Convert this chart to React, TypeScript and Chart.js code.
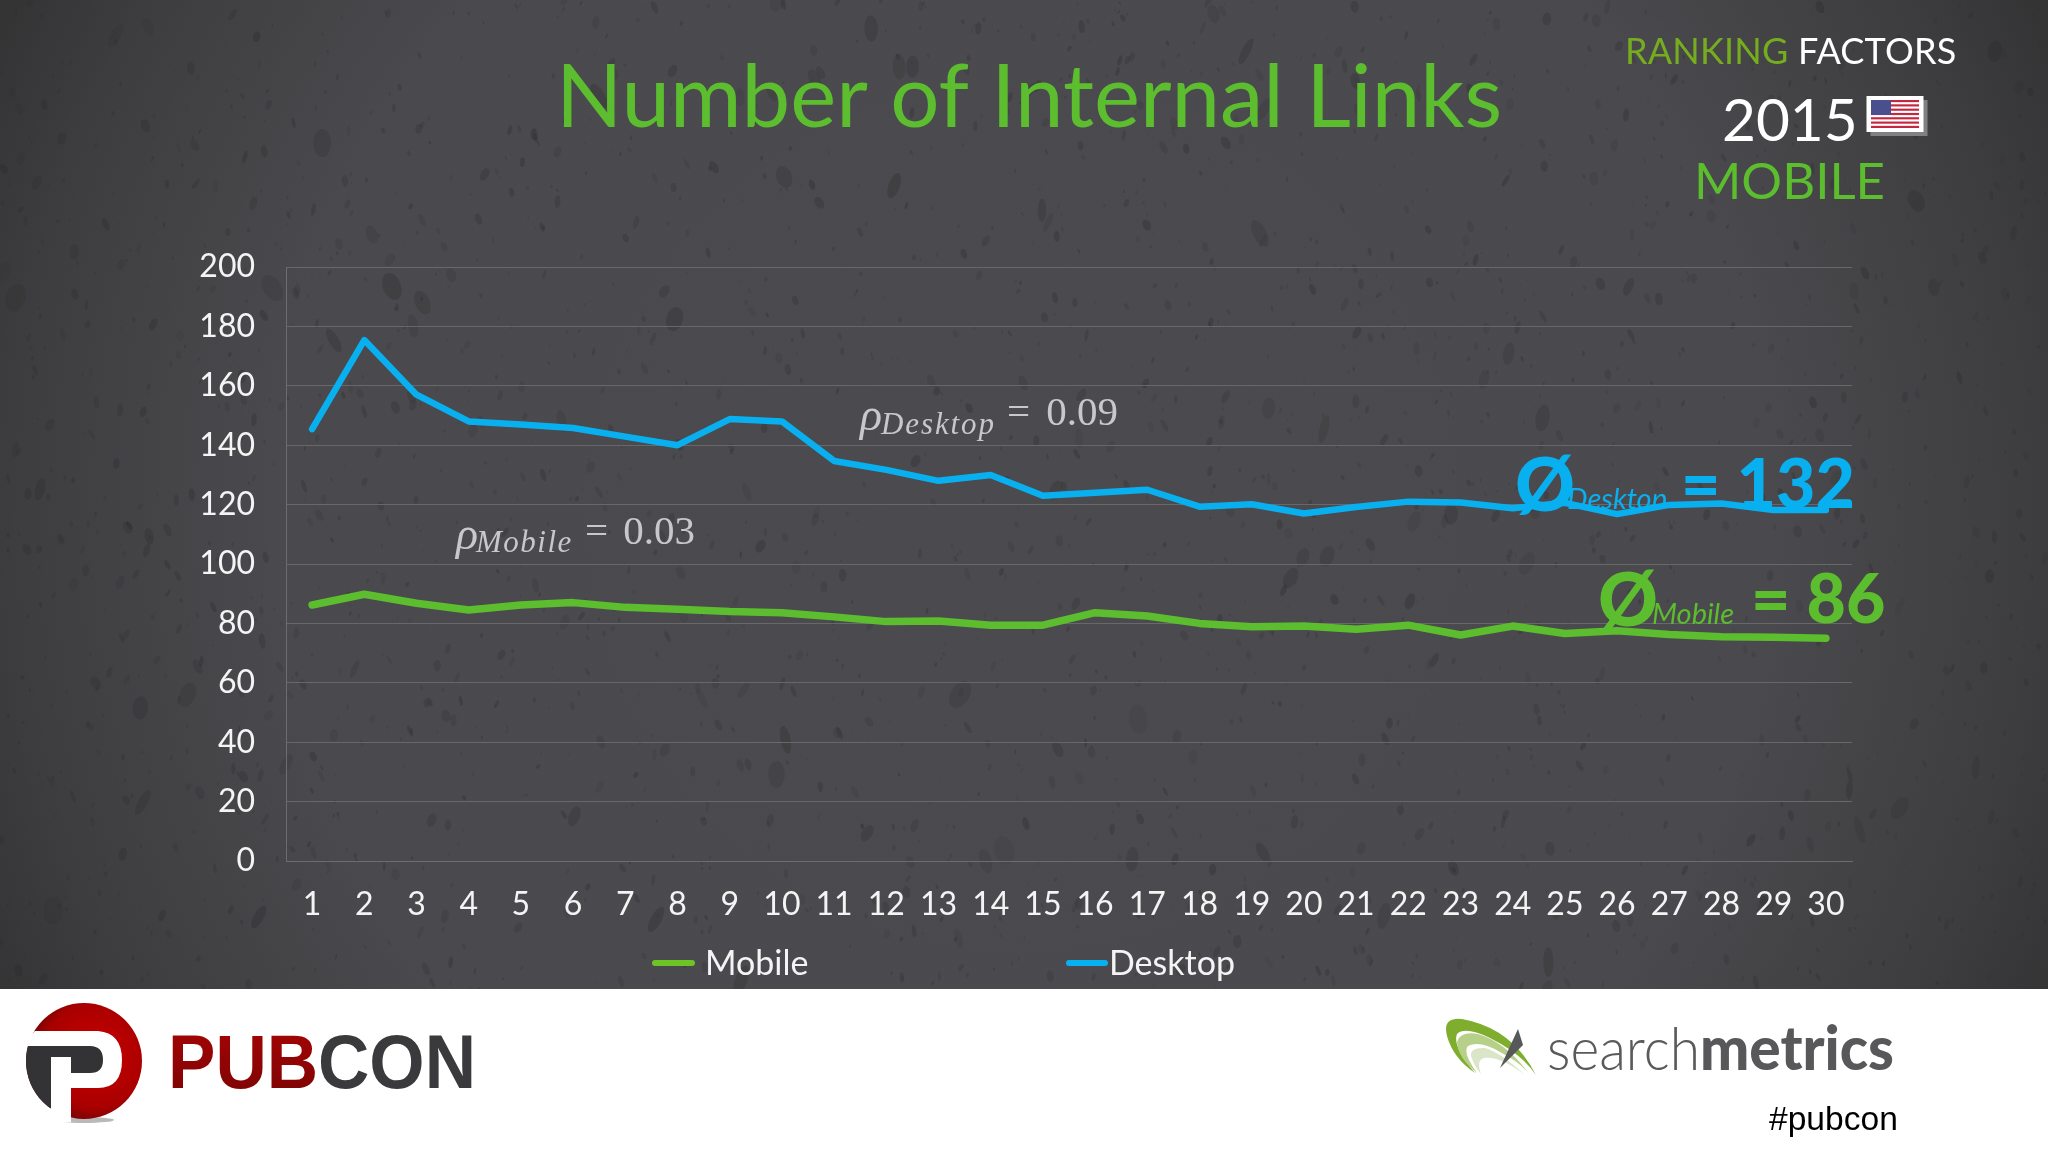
import React, { useEffect, useRef } from "react";
import { Chart, registerables } from "chart.js";

Chart.register(...registerables);

const categories = ["1","2","3","4","5","6","7","8","9","10","11","12","13","14","15","16","17","18","19","20","21","22","23","24","25","26","27","28","29","30"];
const mobileValues = [86.2,89.8,86.8,84.5,86.2,87,85.4,84.8,84,83.6,82.2,80.6,80.8,79.4,79.4,83.6,82.5,80,78.9,79.1,78,79.4,76.1,79.1,76.6,77.5,76.3,75.5,75.3,75];
const desktopValues = [145.4,175.4,157,148,147,145.8,142.9,140,148.8,148,134.7,131.7,128,130,123,124,125,119.3,120.1,117,119.2,121,120.7,118.8,120.6,116.8,119.9,120.4,118.2,118.2];

const titleText = "Number of Internal Links";
const GREEN = "#5cbd2e";
const BLUE = "#08b0f0";
const UI = "Lato, sans-serif";
const SERIF = "Liberation Serif, serif";
const NOTE = "#c8c8ca";

const abs = (left: number, top: number, extra: React.CSSProperties = {}): React.CSSProperties => ({
  position: "absolute",
  left,
  top,
  whiteSpace: "nowrap",
  lineHeight: 1,
  ...extra,
});

// Decorative stone texture of the slide background; unrelated to the chart's data.
function paintTexture(cv: HTMLCanvasElement) {
  const ctx = cv.getContext("2d")!;
  const W = cv.width;
  const H = cv.height;
  const g = ctx.createRadialGradient(W / 2, H * 0.52, 200, W / 2, H * 0.52, 1200);
  g.addColorStop(0, "#4b4a4e");
  g.addColorStop(0.55, "#4a494d");
  g.addColorStop(0.8, "#3e3e40");
  g.addColorStop(1, "#2f2f30");
  ctx.fillStyle = g;
  ctx.fillRect(0, 0, W, H);
  let seed = 12345;
  const next = () => {
    seed = (seed * 1664525 + 1013904223) >>> 0;
    return seed / 4294967296;
  };
  for (let i = 0; i < 2400; i++) {
    const x = next() * W;
    const y = next() * H;
    const big = next();
    const ry = big > 0.95 ? 7 + next() * 8 : big > 0.6 ? 3 + next() * 4 : 1 + next() * 2;
    const rx = ry * (0.3 + next() * 0.4);
    const rot = (next() - 0.5) * 1.2;
    ctx.fillStyle = `rgba(40,40,42,${0.1 + next() * 0.2})`;
    ctx.beginPath();
    ctx.ellipse(x, y, rx, ry, rot, 0, Math.PI * 2);
    ctx.fill();
  }
}

export default function App() {
  const ref = useRef<HTMLCanvasElement | null>(null);
  const bg = useRef<HTMLCanvasElement | null>(null);
  useEffect(() => {
    paintTexture(bg.current!);
    const chart = new Chart(ref.current!, {
      type: "line",
      data: {
        labels: categories,
        datasets: [
          { label: "Mobile", data: mobileValues, borderColor: GREEN, backgroundColor: GREEN, borderWidth: 7.5, pointRadius: 0, tension: 0, borderCapStyle: "round", borderJoinStyle: "round" },
          { label: "Desktop", data: desktopValues, borderColor: BLUE, backgroundColor: BLUE, borderWidth: 6.5, pointRadius: 0, tension: 0, borderCapStyle: "round", borderJoinStyle: "round" },
        ],
      },
      options: {
        animation: false,
        responsive: false,
        devicePixelRatio: 1,
        layout: { padding: { left: 32, right: 196, top: 0, bottom: 28 } },
        scales: {
          x: {
            offset: true,
            afterFit: (s: any) => { s.height = 100; },
            grid: { display: false },
            border: { color: "#6d6d70", width: 1 },
            ticks: { color: "#f4f4f4", font: { family: UI, size: 32 }, padding: 16, maxRotation: 0, autoSkip: false },
          },
          y: {
            min: 0,
            max: 200,
            afterFit: (s: any) => { s.width = 254; },
            grid: { color: "#68686b", lineWidth: 1, drawTicks: false },
            border: { color: "#6d6d70", width: 1 },
            ticks: { stepSize: 20, autoSkip: false, color: "#f4f4f4", font: { family: UI, size: 32 }, padding: 31 },
          },
        },
        plugins: {
          tooltip: { enabled: false },
          legend: { display: false },
          title: {
            display: true,
            text: titleText,
            color: GREEN,
            font: { family: UI, size: 87, weight: "normal", lineHeight: 1 },
            padding: { top: 55, bottom: 125 },
          },
        },
      },
      plugins: [
        {
          id: "titleOffset",
          afterLayout(c: any) {
            c.titleBlock.left = 10;
            c.titleBlock.right = 2048;
          },
        },
      ],
    } as any);
    return () => chart.destroy();
  }, []);

  return (
    <div style={{ position: "absolute", left: 0, top: 0, width: 2048, height: 1152, overflow: "hidden", background: "#fff", fontFamily: UI }}>
      <canvas ref={bg} width={2048} height={989} style={{ position: "absolute", left: 0, top: 0, width: 2048, height: 989 }} />
      <canvas ref={ref} width={2048} height={989} style={{ position: "absolute", left: 0, top: 0, width: 2048, height: 989 }} />

      {/* legend */}
      <div style={{ position: "absolute", left: 652, top: 960, width: 43, height: 6, borderRadius: 3, background: "#6cc524" }} />
      <div style={abs(705, 945, { fontSize: 34, color: "#f4f4f4" })}>Mobile</div>
      <div style={{ position: "absolute", left: 1066, top: 960, width: 42, height: 6, borderRadius: 3, background: BLUE }} />
      <div style={abs(1109, 945, { fontSize: 34, color: "#f4f4f4" })}>Desktop</div>

      {/* top-right label */}
      <div style={abs(1625, 32, { fontSize: 36, color: "#76ad1f", letterSpacing: 0.2 })}>
        RANKING <span style={{ color: "#fff" }}>FACTORS</span>
      </div>
      <div style={abs(1722, 89, { fontSize: 58.5, color: "#fff" })}>2015</div>
      <div style={abs(1694, 154, { fontSize: 51, color: GREEN })}>MOBILE</div>
      <svg style={{ position: "absolute", left: 1860, top: 90, width: 76, height: 50 }} viewBox="0 0 76 50">
        <rect x="10.5" y="10" width="57" height="36" fill="#808083" />
        <rect x="6.5" y="6" width="57" height="36" fill="#fff" />
        <rect x="11" y="10" width="48" height="28" fill="#fff" />
        {[0, 2, 4, 6, 8, 10, 12].map((i) => (
          <rect key={i} x="11" y={10 + (i * 28) / 13} width="48" height={28 / 13} fill="#c4273f" />
        ))}
        <rect x="11" y="10" width="20" height="15" fill="#4a4f8e" />
      </svg>

      {/* correlation notes */}
      <div style={abs(456, 511, { fontFamily: SERIF, fontSize: 46, color: NOTE, fontStyle: "italic" })}>ρ</div>
      <div style={abs(476, 526, { fontFamily: SERIF, fontSize: 31, color: NOTE, fontStyle: "italic", letterSpacing: 1.5 })}>Mobile</div>
      <div style={abs(585, 510, { fontFamily: SERIF, fontSize: 41, color: NOTE, wordSpacing: 5 })}>= 0.03</div>

      <div style={abs(860, 392, { fontFamily: SERIF, fontSize: 46, color: NOTE, fontStyle: "italic" })}>ρ</div>
      <div style={abs(881, 408, { fontFamily: SERIF, fontSize: 31, color: NOTE, fontStyle: "italic", letterSpacing: 1.9 })}>Desktop</div>
      <div style={abs(1007, 391, { fontFamily: SERIF, fontSize: 41, color: NOTE, wordSpacing: 6 })}>= 0.09</div>

      {/* averages */}
      <div style={abs(1515, 446, { fontSize: 74, fontWeight: 900, color: BLUE })}>Ø</div>
      <div style={abs(1567, 483, { fontSize: 29, fontStyle: "italic", color: BLUE, height: 27, overflow: "hidden" })}>Desktop</div>
      <div style={abs(1681, 448, { fontSize: 68, fontWeight: 900, color: BLUE })}>= 132</div>

      <div style={abs(1598, 561, { fontSize: 74, fontWeight: 900, color: GREEN })}>Ø</div>
      <div style={abs(1652, 598, { fontSize: 29, fontStyle: "italic", color: GREEN })}>Mobile</div>
      <div style={abs(1751, 563, { fontSize: 68, fontWeight: 900, color: GREEN })}>= 86</div>

      {/* footer logos */}
      <svg style={{ position: "absolute", left: 0, top: 989, width: 2048, height: 163 }} viewBox="0 989 2048 163">
        <defs>
          <radialGradient id="redBall" cx="0.6" cy="0.45" r="0.65">
            <stop offset="0" stopColor="#cc0000" />
            <stop offset="0.7" stopColor="#a80000" />
            <stop offset="1" stopColor="#5e0606" />
          </radialGradient>
          <linearGradient id="pubRed" x1="0" y1="0" x2="0" y2="1">
            <stop offset="0" stopColor="#a80404" />
            <stop offset="1" stopColor="#7a0404" />
          </linearGradient>
          <clipPath id="ball"><ellipse cx="84" cy="1061" rx="58" ry="58" /></clipPath>
        </defs>
        <ellipse cx="84" cy="1120" rx="30" ry="3" fill="#b9b9b9" />
        <ellipse cx="84" cy="1061" rx="58" ry="58" fill="url(#redBall)" />
        <path d="M35 1031 L98 1031 Q122 1033 122 1060 Q122 1088 98 1088 L71 1088 L71 1122 L51 1122 L51 1046 L20 1046 Z" fill="#fff" />
        <path d="M20 1046 L90 1046 Q103 1046 103 1060 Q103 1073 90 1073 L71 1073 L71 1057 L51 1057 L51 1108 L20 1108 Z" fill="#333335" clipPath="url(#ball)" />
        <text x="168" y="1088" fontFamily="Liberation Sans, sans-serif" fontWeight="700" fontSize="76" textLength="308" lengthAdjust="spacingAndGlyphs">
          <tspan fill="url(#pubRed)">PUB</tspan><tspan fill="#3a3a3d">CON</tspan>
        </text>

        <path d="M1536 1075 Q1512 1028 1462 1019 Q1442 1017 1447 1036 Q1453 1058 1475 1073 Q1452 1046 1457 1034 Q1465 1026 1490 1038 Q1522 1054 1536 1075 Z" fill="#7fae2e" />
        <path d="M1530 1075 Q1506 1042 1478 1034 Q1460 1031 1457 1042 Q1458 1058 1477 1073 Q1462 1052 1468 1046 Q1480 1040 1500 1052 Q1520 1062 1530 1075 Z" fill="#b6d08a" />
        <path d="M1525 1075 Q1500 1052 1485 1048 Q1470 1047 1471 1056 Q1474 1066 1481 1074 Q1476 1060 1484 1058 Q1500 1056 1525 1075 Z" fill="#dbe6c9" />
        <path d="M1518 1029 L1523 1045 L1500 1068 Z" fill="#56585a" />
        <text x="1547" y="1070" fontFamily="Lato, sans-serif" fontWeight="300" fontSize="60" fill="#5a5a5d" textLength="153" lengthAdjust="spacingAndGlyphs">search</text>
        <text x="1700" y="1070" fontFamily="Lato, sans-serif" fontWeight="900" fontSize="60" fill="#58585b" textLength="194" lengthAdjust="spacingAndGlyphs">metrics</text>
        <text x="1769" y="1130" fontFamily="Liberation Sans, sans-serif" fontSize="33.6" fill="#000">#pubcon</text>
      </svg>
    </div>
  );
}
